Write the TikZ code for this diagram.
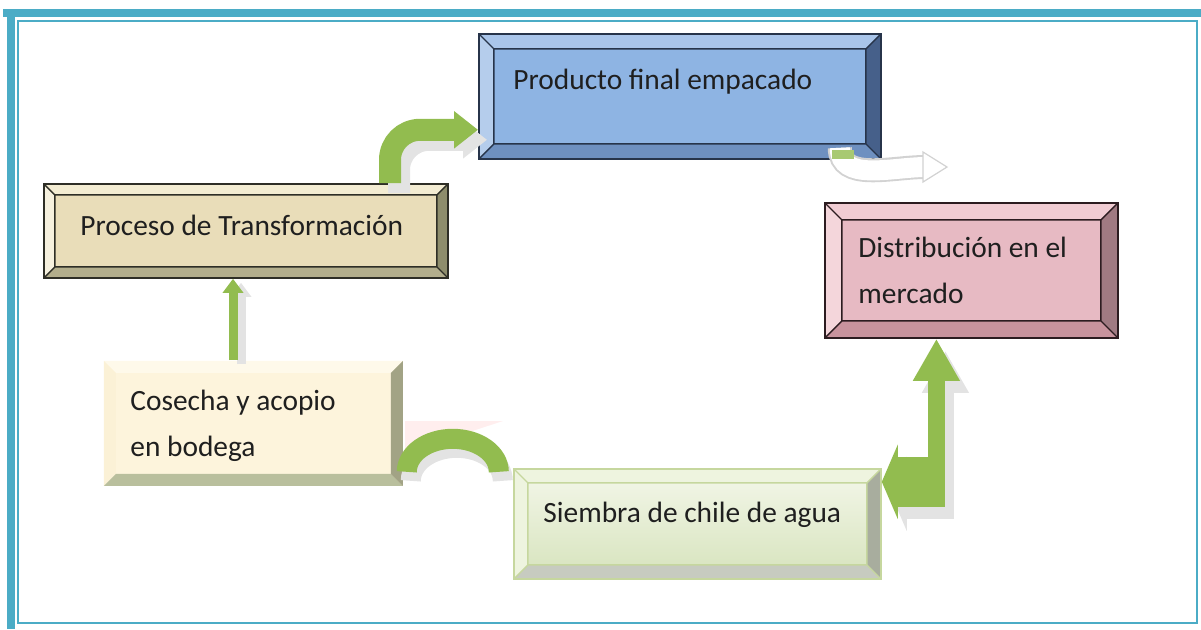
\documentclass[tikz,border=0pt]{standalone}
\usepackage{fontspec}
\setmainfont{Carlito}
\usepackage{tikz}
\usetikzlibrary{arrows.meta,positioning,calc}
\usepackage{xcolor}
\definecolor{framecyan}{HTML}{4BACC6}
\definecolor{arrowgreen}{HTML}{92BC4F}
\definecolor{prodface}{HTML}{8EB4E3}
\definecolor{prodtop}{HTML}{A9C5EA}
\definecolor{prodleft}{HTML}{B5CDEC}
\definecolor{prodbot}{HTML}{6E90C0}
\definecolor{prodright}{HTML}{46608A}
\definecolor{prodedge}{HTML}{27344A}
\definecolor{procface}{HTML}{E9DDB9}
\definecolor{proctop}{HTML}{F3ECD2}
\definecolor{procleft}{HTML}{F6F1DE}
\definecolor{procbot}{HTML}{B3AE8C}
\definecolor{procright}{HTML}{8E8D6C}
\definecolor{procedge}{HTML}{2E2E26}
\definecolor{distface}{HTML}{E7BAC3}
\definecolor{disttop}{HTML}{F1CCD3}
\definecolor{distleft}{HTML}{F4D6DB}
\definecolor{distbot}{HTML}{C8939D}
\definecolor{distright}{HTML}{A07A82}
\definecolor{distedge}{HTML}{2C1C20}
\definecolor{cosface}{HTML}{FDF4DC}
\definecolor{costop}{HTML}{FEF9EA}
\definecolor{cosleft}{HTML}{FBF1D6}
\definecolor{cosbot}{HTML}{B9BF9D}
\definecolor{cosright}{HTML}{A2A385}
\definecolor{siemtop}{HTML}{F4F7EA}
\definecolor{siembot}{HTML}{D6E3BC}
\definecolor{siembev}{HTML}{EEF4DF}
\definecolor{siembotbev}{HTML}{C7CBC0}
\definecolor{siemright}{HTML}{A8AD9E}
\definecolor{siemedge}{HTML}{C6D79E}
\newcommand{\boxfont}{\fontsize{14.7pt}{23pt}\selectfont}
% bevel: width, top, left, bottom, right, edge
\newcommand{\bevelfaces}[6]{%
  \coordinate (bnw) at (path picture bounding box.north west);
  \coordinate (bne) at (path picture bounding box.north east);
  \coordinate (bsw) at (path picture bounding box.south west);
  \coordinate (bse) at (path picture bounding box.south east);
  \coordinate (inw) at ([shift={(#1,-#1)}]bnw);
  \coordinate (ine) at ([shift={(-#1,-#1)}]bne);
  \coordinate (isw) at ([shift={(#1,#1)}]bsw);
  \coordinate (ise) at ([shift={(-#1,#1)}]bse);
  \fill[#2] (bnw) -- (bne) -- (ine) -- (inw) -- cycle;
  \fill[#3] (bnw) -- (inw) -- (isw) -- (bsw) -- cycle;
  \fill[#4] (bsw) -- (isw) -- (ise) -- (bse) -- cycle;
  \fill[#5] (bne) -- (bse) -- (ise) -- (ine) -- cycle;
  \draw[#6, line width=0.7pt] (inw) rectangle (ise)
    (bnw) -- (inw) (bne) -- (ine) (bsw) -- (isw) (bse) -- (ise);
}

\begin{document}
\begin{tikzpicture}[x=0.5pt,y=-0.5pt,>=Latex,
  bevelbox/.style n args={6}{inner sep=0pt, anchor=north west, line width=0.9pt,
    path picture={\bevelfaces{#1}{#2}{#3}{#4}{#5}{#6}}},
  lbl/.style={font=\boxfont, inner sep=0pt, text=black!88, anchor=base west},
  greenarrow/.style={arrowgreen, line width=#1},
  arrowshadow/.style={black!11, line width=#1}]
  \useasboundingbox (0,0) rectangle (1201,629);
  % Frame
  \fill[framecyan] (3,9) rectangle (1201,17);
  \fill[framecyan] (7,9) rectangle (15,629);
  \draw[framecyan, line width=1.1pt] (18,21) rectangle (1197,623);
  % Boxes
  \node[bevelbox={7.5pt}{prodtop}{prodleft}{prodbot}{prodright}{prodedge},
    fill=prodface, draw=prodedge, minimum width=201pt, minimum height=62.5pt] (prod) at (478,33) {};
  \node[bevelbox={5.5pt}{proctop}{procleft}{procbot}{procright}{procedge},
    fill=procface, draw=procedge, minimum width=202pt, minimum height=47pt] (proc) at (43,183) {};
  \node[bevelbox={8.5pt}{disttop}{distleft}{distbot}{distright}{distedge},
    fill=distface, draw=distedge, minimum width=146.5pt, minimum height=67.5pt] (dist) at (824,202) {};
  \node[bevelbox={6pt}{costop}{cosleft}{cosbot}{cosright}{draw=none},
    fill=cosface, minimum width=149.5pt, minimum height=62.5pt] (cos) at (103,360) {};
  \node[bevelbox={7pt}{siembev}{siembev}{siembotbev}{siemright}{siemedge},
    top color=siemtop, bottom color=siembot, draw=siemedge, minimum width=183.5pt, minimum height=55pt] (siem) at (513,468) {};
  % Labels
  \node[lbl] (prodtxt) at ($(prod.north west)+(35,56)$) {Producto final empacado};
  \node[lbl] (proctxt) at ($(proc.north west)+(37,52)$) {Proceso de Transformación};
  \node[lbl, align=left] (disttxt) at ($(dist.north west)+(34,101)$) {Distribución en el\\mercado};
  \node[lbl, align=left] (costxt) at ($(cos.north west)+(27,96)$) {Cosecha y acopio\\en bodega};
  \node[lbl] (siemtxt) at ($(siem.north west)+(30,54)$) {Siembra de chile de agua};
  % Transformacion -> Producto
  \coordinate (a1) at ($(proc.north west)+(347,0)$);
  \coordinate (a2) at ($(prod.south west)+(0,-30)$);
  \draw[arrowshadow=11pt, rounded corners=15pt, -{Triangle[width=18pt,length=12pt]},
    transform canvas={xshift=4.5pt,yshift=-5pt}] (a1) |- (a2);
  \draw[greenarrow=11pt, rounded corners=15pt, -{Triangle[width=18pt,length=12pt]}] (a1) |- (a2);
  % Producto -> Distribucion (pale)
  \coordinate (b1) at ($(prod.south east)+(-42,-12)$);
  \coordinate (b2) at (947,167);
  \draw[gray!35, line width=12pt] (b1) to[out=-90,in=180] ($(b2)+(-22,0)$);
  \draw[white, line width=10pt] (b1) to[out=-90,in=180] ($(b2)+(-21,0)$);
  \fill[arrowgreen!80] ($(prod.south east)+(-50,-10)$) rectangle ($(prod.south east)+(-28,-1)$);
  \filldraw[fill=white, draw=gray!35, line width=0.6pt] (b2) -- ($(b2)+(-24,-15)$) -- ($(b2)+(-24,15)$) -- cycle;
  % Cosecha -> Transformacion
  \coordinate (c1) at ($(cos.north west)+(130,0)$);
  \draw[arrowshadow=4.5pt, -{Triangle[width=10pt,length=7pt]},
    transform canvas={xshift=4pt,yshift=-2pt}] (c1) -- (c1 |- proc.south);
  \draw[greenarrow=4.5pt, -{Triangle[width=10pt,length=7pt]}] (c1) -- (c1 |- proc.south);
  % Cosecha -- Siembra (arch)
  \fill[red!45, opacity=0.15] (405,421) -- (503,421) -- (405,453) -- cycle;
  \coordinate (d1) at ($(cos.south east)+(3,-15)$);
  \draw[arrowshadow=10pt, transform canvas={xshift=2pt,yshift=-4.5pt}]
    (d1) arc[start angle=180, end angle=360, x radius=46, y radius=33];
  \draw[greenarrow=10pt] (d1) arc[start angle=180, end angle=360, x radius=46, y radius=33];
  % Siembra -> Distribucion
  \coordinate (e1) at ($(dist.south)+(-35,143)$);
  \begin{scope}[transform canvas={xshift=4.5pt,yshift=-6pt}]
    \draw[arrowshadow=8.5pt, -{Triangle[width=22pt,length=21pt]}] ($(e1)+(0,25)$) -- (e1 |- dist.south);
    \draw[arrowshadow=25pt, -{Triangle[width=37pt,length=8pt]}] ($(e1)+(8,0)$) -- (e1 -| siem.east);
  \end{scope}
  \draw[greenarrow=8.5pt, -{Triangle[width=22pt,length=21pt]}] ($(e1)+(0,25)$) -- (e1 |- dist.south);
  \draw[greenarrow=25pt, -{Triangle[width=37pt,length=8pt]}] ($(e1)+(8,0)$) -- (e1 -| siem.east);
\end{tikzpicture}
\end{document}
